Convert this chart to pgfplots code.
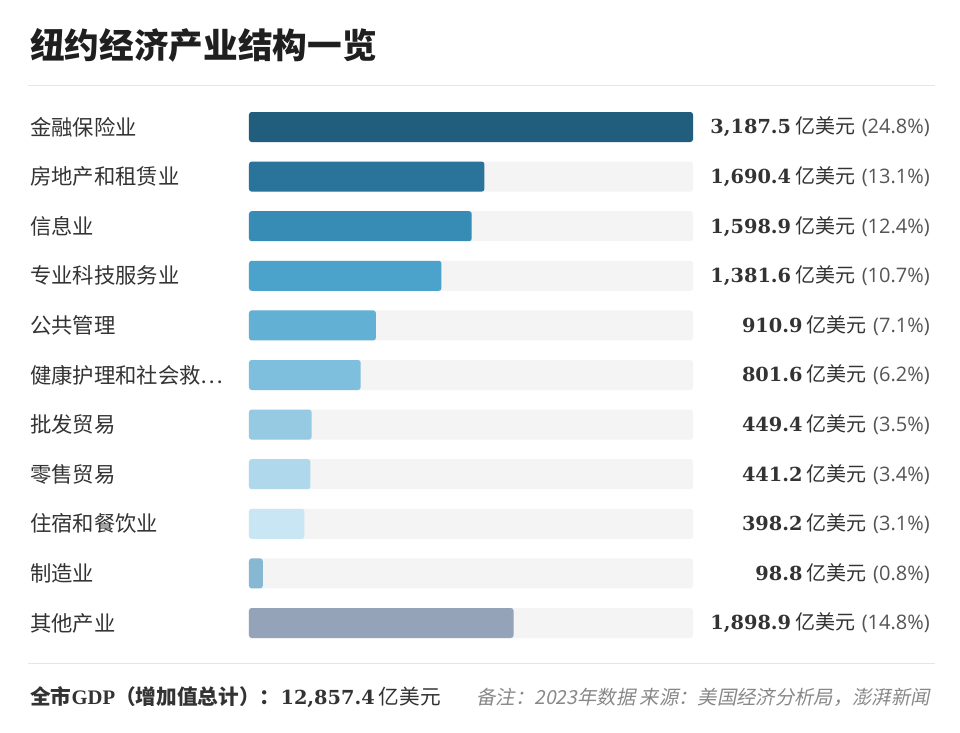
\documentclass[border=0pt]{standalone}
\usepackage{pgfplots}
\pgfplotsset{compat=1.18}
\usepackage{fontspec}
\setmainfont{Liberation Serif}
\setsansfont{Open Sans}
\newfontfamily\numf{DejaVu Serif}
\newfontfamily\cjk{Noto Sans CJK SC}
\newfontfamily\cjki[FakeSlant=0.2]{Noto Sans CJK SC}
\definecolor{track}{HTML}{F4F4F4}
\definecolor{ca}{HTML}{215E7E}
\definecolor{cb}{HTML}{2A739A}
\definecolor{cc}{HTML}{368CB5}
\definecolor{cd}{HTML}{4BA3CB}
\definecolor{ce}{HTML}{63B0D5}
\definecolor{cf}{HTML}{7DBFDD}
\definecolor{cg}{HTML}{96CAE3}
\definecolor{ch}{HTML}{AFD8EC}
\definecolor{ci}{HTML}{C8E6F4}
\definecolor{cj}{HTML}{86B7D3}
\definecolor{ck}{HTML}{94A3B8}
\definecolor{txt}{HTML}{333333}
\definecolor{rule}{HTML}{E6E6E6}
\newcommand{\val}[2]{{\numf\fontsize{14.5pt}{18pt}\selectfont\bfseries\color{txt}#1}\hspace{3pt}{\cjk\fontsize{15pt}{18pt}\selectfont\color{txt}亿美元}\hspace{5pt}{\sffamily\fontsize{15pt}{18pt}\selectfont\color[HTML]{555555}(#2\%)}}
\newcommand{\cat}[1]{{\cjk\fontsize{16pt}{18pt}\selectfont\color{txt}#1}}
\begin{document}
\begin{tikzpicture}
\fill[white] (0,0) rectangle (720pt,-549pt);
\useasboundingbox (0,0) rectangle (720pt,-549pt);
% title
\node[anchor=west, inner sep=0pt, text=black!88] at (22.5pt,-34pt) {\cjk\bfseries\fontsize{26pt}{30pt}\selectfont 纽约经济产业结构一览};
\draw[rule, line width=1.2pt] (21pt,-64pt) -- (701pt,-64pt);
\draw[rule, line width=1.2pt] (21pt,-497.5pt) -- (701pt,-497.5pt);
\begin{axis}[
  at={(186.75pt,-485.85pt)}, anchor=south west,
  scale only axis, width=333pt, height=409.2pt,
  xmin=0, xmax=3187.5, ymin=-0.5, ymax=10.5,
  axis lines=none, ticks=none, clip=false,
]
\addplot[xbar, bar width=22.5pt, bar shift=0pt, fill=track, draw=none, rounded corners=2pt]
  coordinates {(3187.5,0) (3187.5,1) (3187.5,2) (3187.5,3) (3187.5,4) (3187.5,5) (3187.5,6) (3187.5,7) (3187.5,8) (3187.5,9) (3187.5,10)};
\addplot[xbar, bar width=22.5pt, bar shift=0pt, fill=ca, draw=none, rounded corners=2pt] coordinates {(3187.5,10)};
\addplot[xbar, bar width=22.5pt, bar shift=0pt, fill=cb, draw=none, rounded corners=2pt] coordinates {(1690.4,9)};
\addplot[xbar, bar width=22.5pt, bar shift=0pt, fill=cc, draw=none, rounded corners=2pt] coordinates {(1598.9,8)};
\addplot[xbar, bar width=22.5pt, bar shift=0pt, fill=cd, draw=none, rounded corners=2pt] coordinates {(1381.6,7)};
\addplot[xbar, bar width=22.5pt, bar shift=0pt, fill=ce, draw=none, rounded corners=2pt] coordinates {(910.9,6)};
\addplot[xbar, bar width=22.5pt, bar shift=0pt, fill=cf, draw=none, rounded corners=2pt] coordinates {(801.6,5)};
\addplot[xbar, bar width=22.5pt, bar shift=0pt, fill=cg, draw=none, rounded corners=2pt] coordinates {(449.4,4)};
\addplot[xbar, bar width=22.5pt, bar shift=0pt, fill=ch, draw=none, rounded corners=2pt] coordinates {(441.2,3)};
\addplot[xbar, bar width=22.5pt, bar shift=0pt, fill=ci, draw=none, rounded corners=2pt] coordinates {(398.2,2)};
\addplot[xbar, bar width=22.5pt, bar shift=0pt, fill=cj, draw=none, rounded corners=2pt] coordinates {(98.8,1)};
\addplot[xbar, bar width=22.5pt, bar shift=0pt, fill=ck, draw=none, rounded corners=2pt] coordinates {(1898.9,0)};
% category labels
\begin{scope}[every node/.style={anchor=west, inner sep=0pt, xshift=-164.25pt}]
\node at (axis cs:0,10) {\cat{金融保险业}};
\node at (axis cs:0,9) {\cat{房地产和租赁业}};
\node at (axis cs:0,8) {\cat{信息业}};
\node at (axis cs:0,7) {\cat{专业科技服务业}};
\node at (axis cs:0,6) {\cat{公共管理}};
\node at (axis cs:0,5) {\cat{健康护理和社会救…}};
\node at (axis cs:0,4) {\cat{批发贸易}};
\node at (axis cs:0,3) {\cat{零售贸易}};
\node at (axis cs:0,2) {\cat{住宿和餐饮业}};
\node at (axis cs:0,1) {\cat{制造业}};
\node at (axis cs:0,0) {\cat{其他产业}};
\end{scope}
% value labels
\begin{scope}[every node/.style={anchor=east, inner sep=0pt, xshift=177.75pt}]
\node at (axis cs:3187.5,10) {\val{3,187.5}{24.8}};
\node at (axis cs:3187.5,9) {\val{1,690.4}{13.1}};
\node at (axis cs:3187.5,8) {\val{1,598.9}{12.4}};
\node at (axis cs:3187.5,7) {\val{1,381.6}{10.7}};
\node at (axis cs:3187.5,6) {\val{910.9}{7.1}};
\node at (axis cs:3187.5,5) {\val{801.6}{6.2}};
\node at (axis cs:3187.5,4) {\val{449.4}{3.5}};
\node at (axis cs:3187.5,3) {\val{441.2}{3.4}};
\node at (axis cs:3187.5,2) {\val{398.2}{3.1}};
\node at (axis cs:3187.5,1) {\val{98.8}{0.8}};
\node at (axis cs:3187.5,0) {\val{1,898.9}{14.8}};
\end{scope}
\end{axis}
% footer
\node[anchor=west, inner sep=0pt] at (22.5pt,-523pt) {{\cjk\bfseries\fontsize{15.5pt}{18pt}\selectfont\color{txt}全市{\rmfamily GDP}（增加值总计）：}{\numf\bfseries\fontsize{14.5pt}{18pt}\selectfont\color{txt}12,857.4}\hspace{3pt}{\cjk\fontsize{15.5pt}{18pt}\selectfont\color{txt}亿美元}};
\node[anchor=east, inner sep=0pt] at (697.5pt,-523pt) {\cjki\fontsize{14.5pt}{18pt}\selectfont\color[HTML]{888888}备注：2023年数据 来源：美国经济分析局，澎湃新闻};
\end{tikzpicture}
\end{document}
